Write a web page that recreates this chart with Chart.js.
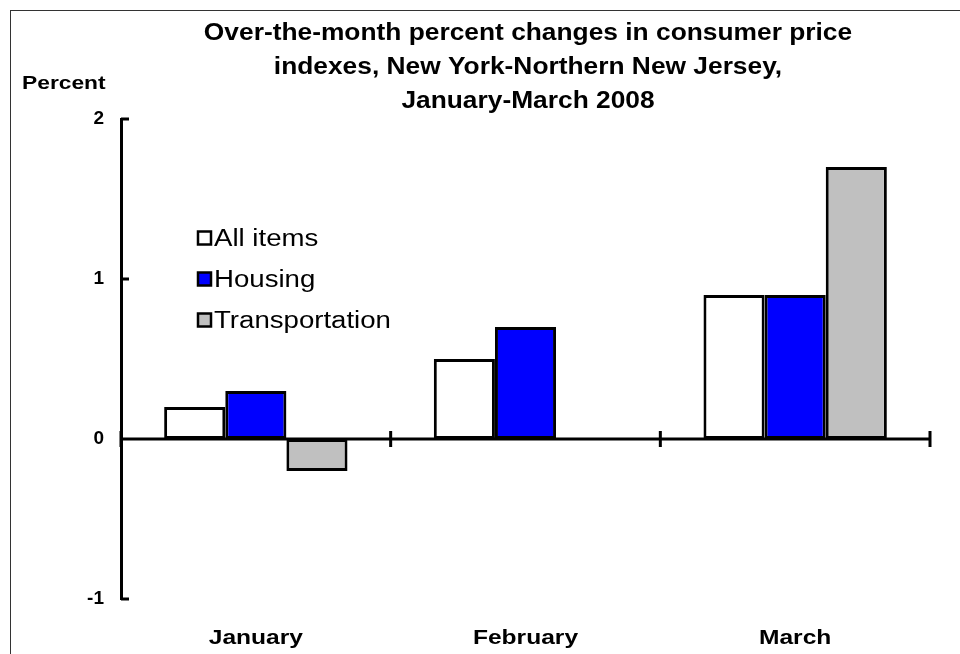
<!DOCTYPE html>
<html>
<head>
<meta charset="utf-8">
<script src="https://cdn.jsdelivr.net/npm/chart.js@4.4.0/dist/chart.umd.min.js"></script>
<style>
    html, body { margin: 0; padding: 0; background: #fff; }
    #wrap { width: 960px; height: 654px; position: relative; }
</style>
</head>
<body>
<div id="wrap"><canvas id="cpi-chart"></canvas></div>
<script>
const months = ['January', 'February', 'March'];
const allItems = [0.2, 0.5, 0.9];
const housing = [0.3, 0.7, 0.9];
const transportation = [-0.2, 0.0, 1.7];
const yTicks = [-1, 0, 1, 2];
const titleLines = [
    'Over-the-month percent changes in consumer price',
    'indexes, New York-Northern New Jersey,',
    'January-March 2008'
];
const yTitle = 'Percent';

const FONT = "'Liberation Sans', Arial, sans-serif";

// the original text is drawn a bit wide, so stretch it horizontally
function wideText(ctx, text, x, y, align, sx) {
    ctx.save();
    ctx.translate(x, y);
    ctx.scale(sx, 1);
    ctx.textAlign = align;
    ctx.fillText(text, 0, 0);
    ctx.restore();
}

/* frame, title, "Percent" and month labels */
const textPlugin = {
    id: 'texts',
    beforeDraw(chart) {
        const ctx = chart.ctx;
        ctx.save();
        ctx.fillStyle = '#fff';
        ctx.fillRect(0, 0, chart.width, chart.height);
        ctx.strokeStyle = '#333';
        ctx.lineWidth = 1;
        ctx.strokeRect(10.5, 10.5, 2000, 2000);
        ctx.restore();
    },
    afterDraw(chart) {
        const ctx = chart.ctx;
        const x = chart.scales.x;
        ctx.save();
        ctx.fillStyle = '#000';
        ctx.textBaseline = 'middle';
        ctx.font = 'bold 23px ' + FONT;
        titleLines.forEach((line, i) => {
            wideText(ctx, line, 528, 34 + i * 34, 'center', 1.145);
        });
        ctx.font = 'bold 19px ' + FONT;
        wideText(ctx, yTitle, 22, 84, 'left', 1.2);
        ctx.font = 'bold 21px ' + FONT;
        chart.data.labels.forEach((lab, i) => {
            wideText(ctx, lab, x.getPixelForTick(i), 638, 'center', 1.17);
        });
        ctx.restore();
    }
};

/* zero line with its tick marks, inward y ticks */
const axisMarks = {
    id: 'axisMarks',
    afterDatasetsDraw(chart) {
        const ctx = chart.ctx;
        const area = chart.chartArea;
        const x = chart.scales.x;
        const y = chart.scales.y;
        const y0 = y.getPixelForValue(0);
        ctx.save();
        ctx.strokeStyle = '#000';
        ctx.lineWidth = 3;
        ctx.beginPath();
        ctx.moveTo(area.left, y0);
        ctx.lineTo(area.right, y0);
        for (let i = 0; i <= months.length; i++) {
            const px = x.getPixelForValue(i - 0.5);
            ctx.moveTo(px, y0 - 8);
            ctx.lineTo(px, y0 + 8);
        }
        yTicks.forEach(v => {
            const py = y.getPixelForValue(v);
            ctx.moveTo(area.left, py);
            ctx.lineTo(area.left + 8, py);
        });
        ctx.stroke();
        ctx.restore();
    }
};

/* legend inside the plot */
const boxLegend = {
    id: 'boxLegend',
    afterDraw(chart) {
        const ctx = chart.ctx;
        ctx.save();
        ctx.font = '23px ' + FONT;
        ctx.textBaseline = 'middle';
        chart.data.datasets.forEach((ds, i) => {
            const cy = 238 + i * 41;
            ctx.fillStyle = ds.backgroundColor;
            ctx.fillRect(198, cy - 6.5, 13, 13);
            ctx.strokeStyle = '#000';
            ctx.lineWidth = 2.5;
            ctx.strokeRect(198, cy - 6.5, 13, 13);
            ctx.fillStyle = '#000';
            wideText(ctx, ds.label, 214, cy + 2, 'left', 1.2);
        });
        ctx.restore();
    }
};

const ctx = document.getElementById('cpi-chart').getContext('2d');
new Chart(ctx, {
    type: 'bar',
    data: {
        labels: months,
        datasets: [{
            label: 'All items',
            data: allItems,
            backgroundColor: '#ffffff'
        }, {
            label: 'Housing',
            data: housing,
            backgroundColor: '#0000ff'
        }, {
            label: 'Transportation',
            data: transportation,
            backgroundColor: '#c0c0c0'
        }]
    },
    options: {
        responsive: true,
        maintainAspectRatio: false,
        animation: false,
        layout: {
            padding: { top: 119, right: 30, bottom: 0, left: 0 }
        },
        datasets: {
            bar: {
                borderColor: '#000',
                borderWidth: 3,
                borderSkipped: false,
                categoryPercentage: 0.68,
                barPercentage: 1
            }
        },
        plugins: {
            legend: { display: false },
            title: { display: false },
            tooltip: { enabled: false }
        },
        scales: {
            x: {
                grid: { display: false, drawTicks: false },
                border: { display: false },
                ticks: { display: false },
                afterFit: scale => { scale.height = 55; }
            },
            y: {
                min: -1,
                max: 2,
                ticks: {
                    stepSize: 1,
                    color: '#000',
                    padding: 17,
                    font: { family: FONT, size: 19, weight: 'bold' }
                },
                afterBuildTicks: scale => {
                    scale.ticks = yTicks.map(v => ({ value: v }));
                },
                grid: { display: false, drawTicks: false },
                border: { display: true, color: '#000', width: 3 },
                afterFit: scale => { scale.width = 121; }
            }
        }
    },
    plugins: [textPlugin, axisMarks, boxLegend]
});
</script>
</body>
</html>
